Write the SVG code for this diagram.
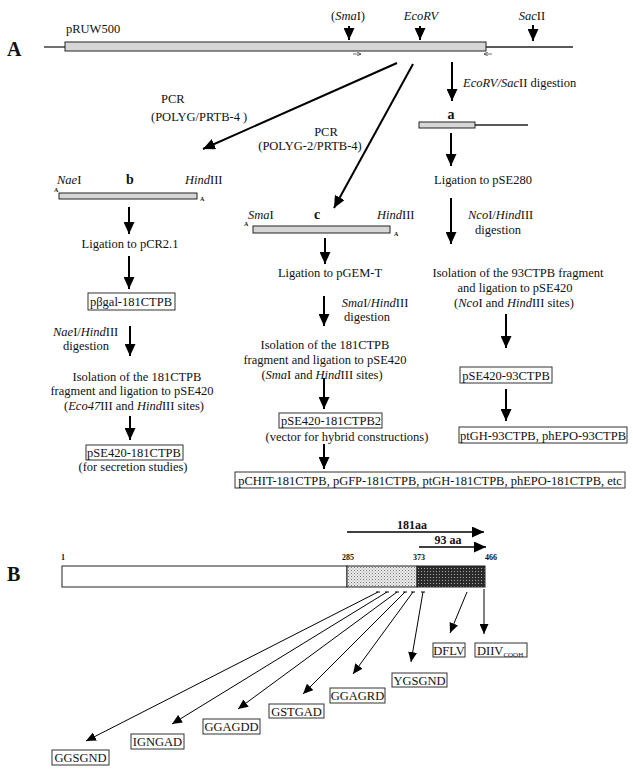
<svg xmlns="http://www.w3.org/2000/svg" width="633" height="770" viewBox="0 0 633 770">
<defs>
<style>
text{font-family:"Liberation Serif","Times New Roman",serif;font-size:12.5px;fill:#111}
.i{font-style:italic}
.b{font-weight:bold}
.big{font-size:20px;font-weight:bold}
.tiny{font-size:6px;font-weight:bold}
.num{font-size:8px;font-weight:bold}
.aa{font-size:12px;font-weight:bold}
.m{text-anchor:middle}
.box{fill:#fff;stroke:#333;stroke-width:1}
.gbar{fill:#d6d6d6;stroke:#222;stroke-width:1}
.thick{stroke:#000;stroke-width:2;fill:none}
.mid{stroke:#000;stroke-width:1.6;fill:none}
.thin{stroke:#000;stroke-width:1;fill:none}
.dna{stroke:#222;stroke-width:1.3;fill:none}
</style>
<marker id="ah" markerUnits="userSpaceOnUse" markerWidth="12" markerHeight="11" refX="12" refY="5.5" orient="auto"><path d="M0,0 L12,5.5 L0,11 z" fill="#000"/></marker>
<marker id="ah2" markerUnits="userSpaceOnUse" markerWidth="10" markerHeight="9" refX="10" refY="4.5" orient="auto"><path d="M0,0 L10,4.5 L0,9 z" fill="#000"/></marker>
<marker id="ah3" markerUnits="userSpaceOnUse" markerWidth="4" markerHeight="4" refX="4" refY="2" orient="auto"><path d="M0,0 L4,2 L0,4" fill="none" stroke="#333" stroke-width="0.7"/></marker>
<pattern id="lt" width="3" height="3" patternUnits="userSpaceOnUse"><rect width="3" height="3" fill="#ececec"/><rect width="1" height="1" fill="#777"/><rect x="1.5" y="1.5" width="1" height="1" fill="#999"/></pattern>
<pattern id="dk" width="3" height="3" patternUnits="userSpaceOnUse"><rect width="3" height="3" fill="#2a2a2a"/><rect x="1" y="1" width="1" height="1" fill="#aaa"/></pattern>
</defs>
<rect width="633" height="770" fill="#fff"/>

<g id="connectors">
<line class="thick" x1="349" y1="26" x2="349" y2="40" marker-end="url(#ah)"/>
<line class="thick" x1="420" y1="26" x2="420" y2="40" marker-end="url(#ah)"/>
<line class="thick" x1="533" y1="25" x2="533" y2="41" marker-end="url(#ah)"/>
<line stroke="#333" stroke-width="0.7" x1="353" y1="54" x2="361" y2="54" marker-end="url(#ah3)"/>
<line stroke="#333" stroke-width="0.7" x1="492" y1="54" x2="484" y2="54" marker-end="url(#ah3)"/>
<line class="thick" x1="397" y1="63" x2="203" y2="149" marker-end="url(#ah)"/>
<line class="thick" x1="413" y1="64" x2="334" y2="208" marker-end="url(#ah)"/>
<line class="thick" x1="452" y1="62" x2="452" y2="101" marker-end="url(#ah)"/>
<line class="thick" x1="451" y1="133" x2="451" y2="166" marker-end="url(#ah)"/>
<line class="thick" x1="451" y1="198" x2="451" y2="244" marker-end="url(#ah)"/>
<line class="thick" x1="506" y1="314" x2="506" y2="348" marker-end="url(#ah)"/>
<line class="thick" x1="506" y1="389" x2="506" y2="421" marker-end="url(#ah)"/>
<line class="thick" x1="325" y1="238" x2="325" y2="264" marker-end="url(#ah)"/>
<line class="thick" x1="324" y1="296" x2="324" y2="326" marker-end="url(#ah)"/>
<line class="thick" x1="324" y1="378" x2="324" y2="409" marker-end="url(#ah)"/>
<line class="thick" x1="324" y1="444" x2="324" y2="469" marker-end="url(#ah)"/>
<line class="thick" x1="129" y1="207" x2="129" y2="234" marker-end="url(#ah)"/>
<line class="thick" x1="129" y1="256" x2="129" y2="289" marker-end="url(#ah)"/>
<line class="thick" x1="130" y1="326" x2="130" y2="356" marker-end="url(#ah)"/>
<line class="thick" x1="130" y1="416" x2="130" y2="440" marker-end="url(#ah)"/>
<line class="mid" x1="347" y1="532" x2="484" y2="532" marker-end="url(#ah)"/>
<line class="mid" x1="419" y1="547" x2="486" y2="547" marker-end="url(#ah)"/>
<path class="thin" d="M376,592 h4 M385,592 h4 M395,592 h4 M403,592 h4 M411,592 h4 M421,592 h4"/>
<line class="thin" x1="378" y1="592" x2="86" y2="741" marker-end="url(#ah2)"/>
<line class="thin" x1="387" y1="592" x2="172" y2="724" marker-end="url(#ah2)"/>
<line class="thin" x1="397" y1="592" x2="238" y2="709" marker-end="url(#ah2)"/>
<line class="thin" x1="405" y1="592" x2="303" y2="694" marker-end="url(#ah2)"/>
<line class="thin" x1="413" y1="592" x2="353" y2="674" marker-end="url(#ah2)"/>
<line class="thin" x1="423" y1="592" x2="411" y2="662" marker-end="url(#ah2)"/>
<line class="thin" x1="467" y1="592" x2="450" y2="633" marker-end="url(#ah2)"/>
<line class="thin" x1="484" y1="589" x2="484" y2="634" marker-end="url(#ah2)"/>
</g>

<g id="labelA"><text class="big" x="7" y="56">A</text></g>

<g id="pRUW500">
<line class="dna" x1="44" y1="47" x2="65" y2="47"/>
<line class="dna" x1="486" y1="47" x2="573" y2="47"/>
<rect class="gbar" x="65" y="42" width="421" height="9"/>
<text x="66" y="33">pRUW500</text>
<text class="m" x="348" y="20">(<tspan class="i">Sma</tspan>I)</text>
<text class="m i" x="421" y="20">EcoRV</text>
<text class="m" x="532" y="20"><tspan class="i">Sac</tspan>II</text>
</g>

<g id="pcr1">
<text x="161" y="103">PCR</text>
<text x="151" y="121">(POLYG/PRTB-4 )</text>
</g>
<g id="pcr2">
<text class="m" x="326" y="136">PCR</text>
<text class="m" x="310" y="150">(POLYG-2/PRTB-4)</text>
</g>
<g id="digest-a">
<text x="463" y="87"><tspan class="i">EcoRV/Sac</tspan>II digestion</text>
</g>

<g id="fragment-a">
<text class="b m" x="451" y="119" style="font-size:14px">a</text>
<rect class="gbar" x="419" y="122" width="56" height="6"/>
<line class="dna" x1="475" y1="125" x2="528" y2="125"/>
</g>

<g id="ligation-pSE280"><text class="m" x="483" y="184">Ligation to pSE280</text></g>
<g id="digest-nco">
<text x="468" y="219"><tspan class="i">Nco</tspan>I/<tspan class="i">Hind</tspan>III</text>
<text class="m" x="498" y="234">digestion</text>
</g>
<g id="isolation-93">
<text class="m" x="518" y="277">Isolation of the 93CTPB fragment</text>
<text class="m" x="515" y="292">and ligation to pSE420</text>
<text class="m" x="514" y="307">(<tspan class="i">Nco</tspan>I and <tspan class="i">Hind</tspan>III sites)</text>
</g>
<g id="pSE420-93CTPB">
<rect class="box" x="460" y="367" width="92" height="16"/>
<text class="m" x="506" y="380">pSE420-93CTPB</text>
</g>
<g id="ptGH-93">
<rect class="box" x="459" y="427" width="168" height="16"/>
<text class="m" x="543" y="440">ptGH-93CTPB, phEPO-93CTPB</text>
</g>

<g id="fragment-b">
<text x="57" y="184"><tspan class="i">Nae</tspan>I</text>
<text class="b m" x="130" y="184" style="font-size:14px">b</text>
<text x="185" y="184"><tspan class="i">Hind</tspan>III</text>
<rect class="gbar" x="59" y="193" width="138" height="6"/>
<text class="tiny" x="54" y="192">A</text>
<text class="tiny" x="200" y="201">A</text>
</g>
<g id="ligation-pCR"><text class="m" x="130" y="248">Ligation to pCR2.1</text></g>
<g id="pbgal">
<rect class="box" x="88" y="293" width="87" height="17"/>
<text class="m" x="131" y="306">pβgal-181CTPB</text>
</g>
<g id="digest-nae">
<text x="53" y="336"><tspan class="i">Nae</tspan>I/<tspan class="i">Hind</tspan>III</text>
<text class="m" x="86" y="350">digestion</text>
</g>
<g id="isolation-181-left">
<text class="m" x="137" y="381">Isolation of the 181CTPB</text>
<text class="m" x="132" y="395">fragment and ligation to pSE420</text>
<text class="m" x="134" y="410">(<tspan class="i">Eco47</tspan>III and <tspan class="i">Hind</tspan>III sites)</text>
</g>
<g id="pSE420-181CTPB">
<rect class="box" x="86" y="445" width="97" height="15"/>
<text class="m" x="134" y="457">pSE420-181CTPB</text>
<text class="m" x="133" y="471">(for secretion studies)</text>
</g>

<g id="fragment-c">
<text x="248" y="219"><tspan class="i">Sma</tspan>I</text>
<text class="b m" x="317" y="219" style="font-size:14px">c</text>
<text x="377" y="219"><tspan class="i">Hind</tspan>III</text>
<rect class="gbar" x="253" y="226" width="137" height="7"/>
<text class="tiny" x="244" y="226">A</text>
<text class="tiny" x="394" y="236">A</text>
</g>
<g id="ligation-pGEM"><text class="m" x="330" y="277">Ligation to pGEM-T</text></g>
<g id="digest-sma">
<text class="m" x="375" y="307"><tspan class="i">Sma</tspan>I/<tspan class="i">Hind</tspan>III</text>
<text class="m" x="367" y="321">digestion</text>
</g>
<g id="isolation-181-mid">
<text class="m" x="325" y="349">Isolation of the 181CTPB</text>
<text class="m" x="325" y="364">fragment and ligation to pSE420</text>
<text class="m" x="322" y="379">(<tspan class="i">Sma</tspan>I and <tspan class="i">Hind</tspan>III sites)</text>
</g>
<g id="pSE420-181CTPB2">
<rect class="box" x="279" y="413" width="103" height="15"/>
<text class="m" x="331" y="425">pSE420-181CTPB2</text>
<text class="m" x="347" y="441">(vector for hybrid constructions)</text>
</g>
<g id="hybrids">
<rect class="box" x="235" y="472" width="390" height="16"/>
<text class="m" x="430" y="485">pCHIT-181CTPB, pGFP-181CTPB, ptGH-181CTPB, phEPO-181CTPB, etc</text>
</g>

<g id="labelB"><text class="big" x="7" y="581">B</text></g>
<g id="protein">
<rect x="62" y="566" width="285" height="21" fill="#fff" stroke="#222" stroke-width="1"/>
<rect x="347" y="566" width="70" height="21" fill="url(#lt)" stroke="#222" stroke-width="1"/>
<rect x="417" y="566" width="68" height="21" fill="url(#dk)" stroke="#222" stroke-width="1"/>
<text class="num" x="61" y="560">1</text>
<text class="num m" x="348" y="560">285</text>
<text class="num m" x="419" y="560">373</text>
<text class="num m" x="491" y="560">466</text>
<text class="aa m" x="412" y="529">181aa</text>
<text class="aa m" x="448" y="544">93 aa</text>
</g>

<g id="DFLV"><rect class="box" x="433" y="643" width="32" height="14"/><text class="m" x="449" y="655">DFLV</text></g>
<g id="DIIV"><rect class="box" x="475" y="643" width="52" height="14"/><text x="477" y="655">DIIV<tspan style="font-size:7px" dy="2">COOH</tspan></text></g>
<g id="YGSGND"><rect class="box" x="392" y="673" width="55" height="14"/><text class="m" x="419.5" y="685">YGSGND</text></g>
<g id="GGAGRD"><rect class="box" x="330" y="688" width="55" height="15"/><text class="m" x="357.5" y="700">GGAGRD</text></g>
<g id="GSTGAD"><rect class="box" x="269" y="704" width="55" height="14"/><text class="m" x="296.5" y="716">GSTGAD</text></g>
<g id="GGAGDD"><rect class="box" x="203" y="719" width="57" height="15"/><text class="m" x="231.5" y="731">GGAGDD</text></g>
<g id="IGNGAD"><rect class="box" x="131" y="734" width="53" height="15"/><text class="m" x="157.5" y="746">IGNGAD</text></g>
<g id="GGSGND"><rect class="box" x="52" y="750" width="57" height="15"/><text class="m" x="80.5" y="762">GGSGND</text></g>
</svg>
